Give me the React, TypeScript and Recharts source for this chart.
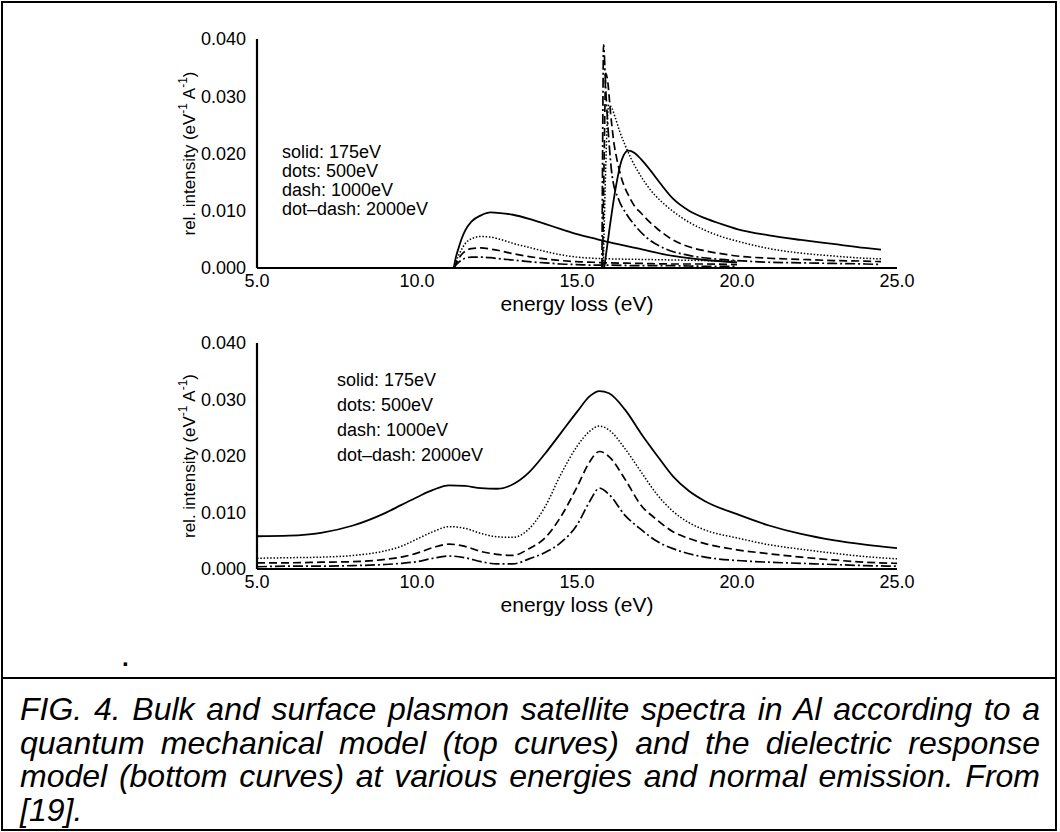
import React from 'react';
import { LineChart, Line, XAxis, YAxis } from 'recharts';

const FONT = '"Liberation Sans", Arial, Helvetica, sans-serif';

// ---- axis ticks ----
const xMajorTicks = [5, 10, 15, 20, 25];
const xMinorTicks = [7.5, 12.5, 17.5, 22.5];
const yMajorTicks = [0, 0.01, 0.02, 0.03, 0.04];
const yMinorTicks = [0.005, 0.015, 0.025, 0.035];

const legendLabels = ['solid: 175eV', 'dots: 500eV', 'dash: 1000eV', 'dot\u2013dash: 2000eV'];

// ---- top panel (quantum mechanical model): surface plasmon part ----
const surfX = [11.15, 11.2, 11.3, 11.4, 11.5, 11.7, 12.0, 12.3, 12.6, 13.0, 13.5, 14.0, 14.5, 15.0, 15.5, 16.0, 17.0, 18.0, 19.0, 20.0];
const surf175 = [0, 0.0015, 0.0035, 0.0052, 0.0065, 0.0081, 0.0092, 0.0097, 0.0096, 0.0093, 0.0086, 0.0077, 0.0068, 0.0059, 0.0052, 0.0045, 0.0033, 0.0021, 0.0014, 0.001];
const surf500 = [0, 0.0008, 0.0022, 0.0033, 0.0042, 0.0051, 0.0055, 0.0054, 0.005, 0.0043, 0.0036, 0.0029, 0.0023, 0.0019, 0.0017, 0.0016, 0.0015, 0.0014, 0.0013, 0.0012];
const surf1000 = [0, 0.0006, 0.0016, 0.0024, 0.0029, 0.0034, 0.0035, 0.0033, 0.003, 0.0025, 0.002, 0.0016, 0.0013, 0.0011, 0.001, 0.0009, 0.0008, 0.0007, 0.0007, 0.0006];
const surf2000 = [0, 0.0004, 0.001, 0.0014, 0.0017, 0.0019, 0.0019, 0.0018, 0.0016, 0.0014, 0.0011, 0.0009, 0.0007, 0.0006, 0.0005, 0.0005, 0.0004, 0.0004, 0.0003, 0.0003];

// ---- top panel: bulk plasmon part ----
const bulkX175 = [15.85, 16.0, 16.2, 16.4, 16.6, 16.8, 17.0, 17.3, 17.6, 18.0, 18.5, 19.0, 19.5, 20.0, 21.0, 22.0, 23.0, 24.0, 24.5];
const bulk175 = [0, 0.0062, 0.0137, 0.0189, 0.0205, 0.0201, 0.019, 0.017, 0.0148, 0.0121, 0.01, 0.0087, 0.0077, 0.0068, 0.0057, 0.0049, 0.0042, 0.0035, 0.0032];
const bulkX500 = [15.82, 15.9, 15.95, 16.0, 16.1, 16.2, 16.35, 16.5, 16.7, 17.0, 17.3, 17.6, 18.0, 18.5, 19.0, 19.5, 20.0, 21.0, 22.0, 23.0, 24.0, 24.5];
const bulk500 = [0, 0.018, 0.026, 0.0285, 0.0278, 0.0262, 0.0236, 0.0215, 0.019, 0.016, 0.0136, 0.0118, 0.0099, 0.008, 0.0066, 0.0055, 0.0047, 0.0034, 0.0026, 0.0021, 0.0017, 0.0016];
const bulkX1000 = [15.8, 15.85, 15.9, 15.95, 16.05, 16.15, 16.25, 16.4, 16.6, 16.8, 17.0, 17.2, 17.5, 18.0, 18.5, 19.0, 19.5, 20.0, 21.0, 22.0, 23.0, 24.0, 24.5];
const bulk1000 = [0, 0.02, 0.034, 0.033, 0.027, 0.022, 0.0189, 0.0155, 0.0128, 0.0108, 0.0096, 0.0084, 0.0069, 0.0049, 0.0037, 0.003, 0.0025, 0.0021, 0.0017, 0.0015, 0.0013, 0.0012, 0.0011];
const bulkX2000 = [15.78, 15.8, 15.83, 15.9, 16.0, 16.1, 16.3, 16.55, 16.8, 17.2, 17.7, 18.5, 19.5, 20.0, 21.0, 22.0, 23.0, 24.0, 24.5];
const bulk2000 = [0, 0.02, 0.039, 0.031, 0.022, 0.016, 0.012, 0.0094, 0.0075, 0.0052, 0.0035, 0.0022, 0.0015, 0.0013, 0.001, 0.0009, 0.0008, 0.0007, 0.0006];

// ---- bottom panel (dielectric response model) ----
const bottomX = [5, 6, 7, 8, 9, 9.5, 10, 10.5, 11, 11.5, 12, 12.5, 13, 13.5, 14, 14.5, 15, 15.4, 15.7, 16, 16.5, 17, 17.5, 18, 18.5, 19, 20, 21, 22, 23, 24, 25];
const dr175 = [0.0058, 0.0059, 0.0064, 0.0077, 0.0099, 0.0113, 0.0127, 0.014, 0.0148, 0.0147, 0.0143, 0.0142, 0.015, 0.0171, 0.0204, 0.0241, 0.0278, 0.0306, 0.0315, 0.0311, 0.0282, 0.024, 0.0201, 0.0164, 0.0138, 0.012, 0.0097, 0.0077, 0.0062, 0.0051, 0.0043, 0.0037];
const dr500 = [0.0019, 0.002, 0.0021, 0.0024, 0.0032, 0.004, 0.0053, 0.0066, 0.0075, 0.0072, 0.0063, 0.0057, 0.0056, 0.0071, 0.011, 0.0168, 0.0217, 0.0244, 0.0253, 0.0246, 0.0213, 0.0172, 0.0132, 0.0102, 0.0082, 0.0069, 0.0055, 0.0043, 0.0035, 0.0028, 0.0022, 0.0018];
const dr1000 = [0.0011, 0.0011, 0.0012, 0.0013, 0.0017, 0.0021, 0.0028, 0.0038, 0.0044, 0.004, 0.0031, 0.0026, 0.0024, 0.0036, 0.0055, 0.0093, 0.0145, 0.019, 0.0208, 0.0199, 0.0159, 0.0113, 0.0087, 0.0066, 0.0054, 0.0045, 0.0034, 0.0027, 0.0021, 0.0016, 0.0012, 0.001];
const dr2000 = [0.0004, 0.0005, 0.0005, 0.0006, 0.0008, 0.001, 0.0013, 0.0019, 0.0023, 0.002, 0.0013, 0.0009, 0.0009, 0.0018, 0.0029, 0.0047, 0.0078, 0.012, 0.0143, 0.0132, 0.0095, 0.007, 0.0049, 0.0036, 0.0027, 0.0021, 0.0015, 0.0012, 0.001, 0.0008, 0.0006, 0.0005];

const captionLines = [
  'FIG. 4. Bulk and surface plasmon satellite spectra in Al according to a',
  'quantum mechanical model (top curves) and the dielectric response',
  'model (bottom curves) at various energies and normal emission. From',
  '[19].',
];

// ---- helpers ----
const toPoints = (xs: number[], ys: number[]) => xs.map((x, i) => ({ x, y: ys[i] }));
const bottomData = bottomX.map((x, i) => ({ x, s175: dr175[i], s500: dr500[i], s1000: dr1000[i], s2000: dr2000[i] }));

const STYLES = [
  { strokeDasharray: undefined as string | undefined, strokeWidth: 1.8 },
  { strokeDasharray: '1.5 1.8', strokeWidth: 1.5 },
  { strokeDasharray: '8 4', strokeWidth: 1.7 },
  { strokeDasharray: '10 3 2 3', strokeWidth: 1.7 },
];

const XTitle = (props: any) => {
  const vb = props.viewBox;
  return (
    <text x={vb.x + vb.width / 2} y={vb.y + 35} textAnchor="middle" dominantBaseline="central" fontFamily={FONT} fontSize={21} fill="#000">
      energy loss (eV)
    </text>
  );
};

const YTitle = (props: any) => {
  const vb = props.viewBox;
  const cx = vb.x - 8;
  const cy = vb.y + vb.height / 2;
  return (
    <text transform={`translate(${cx},${cy}) rotate(-90)`} textAnchor="middle" dominantBaseline="central" fontFamily={FONT} fontSize={17} fill="#000">
      rel. intensity (eV<tspan dy={-6} fontSize={12}>-1</tspan>
      <tspan dy={6}> A</tspan>
      <tspan dy={-6} fontSize={12}>-1</tspan>
      <tspan dy={6}>)</tspan>
    </text>
  );
};

const frameAxes = () => {
  const tickLineStyle = { stroke: '#000', strokeWidth: 1.5 };
  const border = { stroke: '#000', strokeWidth: 2.2 };
  const xCommon = { type: 'number' as const, domain: [5, 25], allowDataOverflow: true, interval: 0 as const };
  const yCommon = { type: 'number' as const, domain: [0, 0.04], allowDataOverflow: true, interval: 0 as const };
  return [
    <XAxis key="xm" xAxisId="main" dataKey="x" {...xCommon} ticks={xMajorTicks} orientation="bottom"
      tickFormatter={(v: number) => v.toFixed(1)} tickLine={false} tickSize={0} tickMargin={6} height={40}
      axisLine={border} tick={{ fill: '#000', fontSize: 18, fontFamily: FONT }}
      label={{ content: (p: any) => <XTitle {...p} /> }} />,
    <XAxis key="xb1" xAxisId="bMaj" {...xCommon} ticks={xMajorTicks} orientation="bottom" mirror height={0}
      tick={false} tickSize={7} tickLine={tickLineStyle} axisLine={false} />,
    <XAxis key="xb2" xAxisId="bMin" {...xCommon} ticks={xMinorTicks} orientation="bottom" mirror height={0}
      tick={false} tickSize={4} tickLine={tickLineStyle} axisLine={false} />,
    <XAxis key="xt1" xAxisId="tMaj" {...xCommon} ticks={xMajorTicks} orientation="top" mirror height={0}
      tick={false} tickSize={7} tickLine={tickLineStyle} axisLine={border} />,
    <XAxis key="xt2" xAxisId="tMin" {...xCommon} ticks={xMinorTicks} orientation="top" mirror height={0}
      tick={false} tickSize={4} tickLine={tickLineStyle} axisLine={false} />,
    <YAxis key="ym" yAxisId="main" {...yCommon} ticks={yMajorTicks} orientation="left" width={60}
      tickFormatter={(v: number) => v.toFixed(3)} tickLine={false} tickSize={0} tickMargin={11}
      axisLine={border} tick={{ fill: '#000', fontSize: 18, fontFamily: FONT }}
      label={{ content: (p: any) => <YTitle {...p} /> }} />,
    <YAxis key="yl1" yAxisId="lMaj" {...yCommon} ticks={yMajorTicks} orientation="left" mirror width={0}
      tick={false} tickSize={7} tickLine={tickLineStyle} axisLine={false} />,
    <YAxis key="yl2" yAxisId="lMin" {...yCommon} ticks={yMinorTicks} orientation="left" mirror width={0}
      tick={false} tickSize={4} tickLine={tickLineStyle} axisLine={false} />,
    <YAxis key="yr1" yAxisId="rMaj" {...yCommon} ticks={yMajorTicks} orientation="right" mirror width={0}
      tick={false} tickSize={7} tickLine={tickLineStyle} axisLine={border} />,
    <YAxis key="yr2" yAxisId="rMin" {...yCommon} ticks={yMinorTicks} orientation="right" mirror width={0}
      tick={false} tickSize={4} tickLine={tickLineStyle} axisLine={false} />,
  ];
};

const topSeries = [
  { id: 's175', data: toPoints(surfX, surf175), style: 0 },
  { id: 's500', data: toPoints(surfX, surf500), style: 1 },
  { id: 's1000', data: toPoints(surfX, surf1000), style: 2 },
  { id: 's2000', data: toPoints(surfX, surf2000), style: 3 },
  { id: 'b175', data: toPoints(bulkX175, bulk175), style: 0 },
  { id: 'b500', data: toPoints(bulkX500, bulk500), style: 1 },
  { id: 'b1000', data: toPoints(bulkX1000, bulk1000), style: 2 },
  { id: 'b2000', data: toPoints(bulkX2000, bulk2000), style: 3 },
];

const bottomKeys = ['s175', 's500', 's1000', 's2000'];

const TopChart = () => (
  <LineChart width={1060} height={320} margin={{ top: 39, right: 163, bottom: 12, left: 197 }}>
    {frameAxes()}
    {topSeries.map((s) => (
      <Line key={s.id} data={s.data} dataKey="y" xAxisId="main" yAxisId="main" type="monotone"
        stroke="#000" strokeWidth={STYLES[s.style].strokeWidth} strokeDasharray={STYLES[s.style].strokeDasharray}
        dot={false} activeDot={false} isAnimationActive={false} />
    ))}
  </LineChart>
);

const BottomChart = () => (
  <LineChart width={1060} height={320} data={bottomData} margin={{ top: 43, right: 163, bottom: 11, left: 197 }}>
    {frameAxes()}
    {bottomKeys.map((k, i) => (
      <Line key={k} dataKey={k} xAxisId="main" yAxisId="main" type="monotone"
        stroke="#000" strokeWidth={STYLES[i].strokeWidth} strokeDasharray={STYLES[i].strokeDasharray}
        dot={false} activeDot={false} isAnimationActive={false} />
    ))}
  </LineChart>
);

const Legend = ({ left, top, fontSize, lineHeight }: { left: number; top: number; fontSize: number; lineHeight: number }) => (
  <div style={{ position: 'absolute', left, top, fontFamily: FONT, fontSize, lineHeight: `${lineHeight}px`, color: '#000', whiteSpace: 'nowrap' }}>
    {legendLabels.map((l) => (
      <div key={l}>{l}</div>
    ))}
  </div>
);

export default function App() {
  return (
    <div style={{ position: 'absolute', left: 0, top: 0, width: 1060, height: 832, background: '#fff', overflow: 'hidden' }}>
      <div style={{ position: 'absolute', left: 1, top: 1, width: 1056, height: 830, border: '2px solid #000', boxSizing: 'border-box' }} />
      <div style={{ position: 'absolute', left: 1, top: 677, width: 1056, height: 2, background: '#000' }} />
      <div style={{ position: 'absolute', left: 0, top: 0 }}>
        <TopChart />
      </div>
      <div style={{ position: 'absolute', left: 0, top: 300 }}>
        <BottomChart />
      </div>
      <Legend left={282} top={143} fontSize={18} lineHeight={19} />
      <Legend left={337} top={368} fontSize={18} lineHeight={25} />
      <div style={{ position: 'absolute', left: 122, top: 644, fontFamily: FONT, fontSize: 24, fontWeight: 'bold' }}>.</div>
      {captionLines.map((line, i) => (
        <div key={i} style={{
          position: 'absolute', left: 20, top: 692 + i * 33.5, width: 1020,
          fontFamily: FONT, fontStyle: 'italic', fontSize: 32, lineHeight: '34px', color: '#000',
          textAlign: 'justify', textAlignLast: i < 3 ? 'justify' : 'left',
        }}>{line}</div>
      ))}
    </div>
  );
}
